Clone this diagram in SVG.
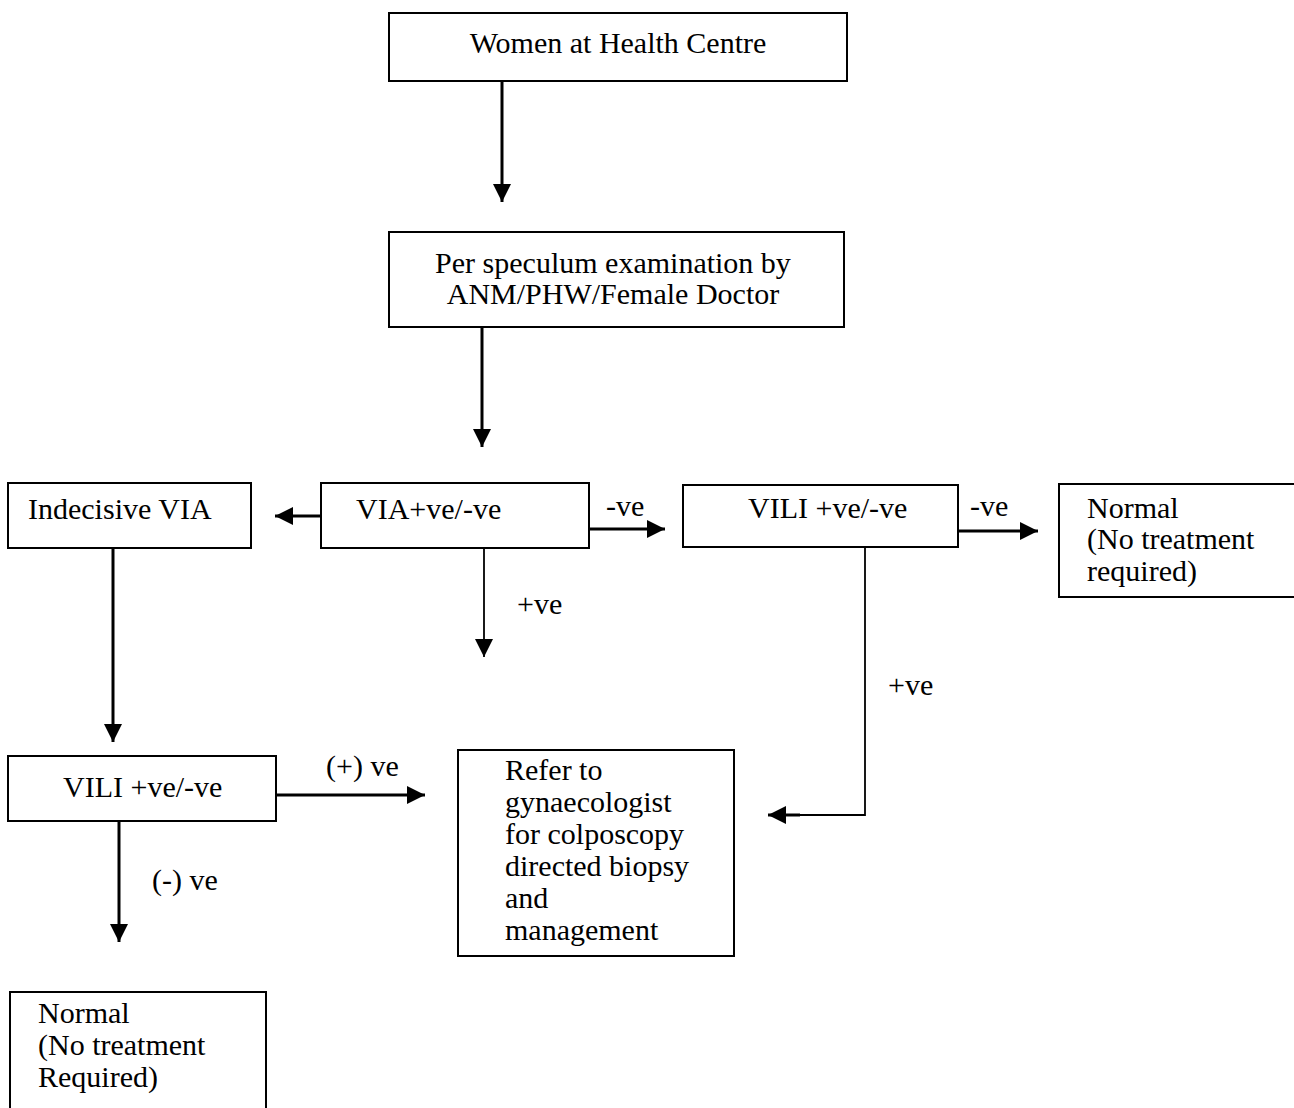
<svg xmlns="http://www.w3.org/2000/svg" width="1294" height="1108" viewBox="0 0 1294 1108">
<defs>
<marker id="ah" viewBox="0 0 10 10" refX="10" refY="5" markerWidth="6" markerHeight="6" markerUnits="strokeWidth" orient="auto">
<path d="M0,0 L10,5 L0,10 z" fill="#000"/>
</marker>
<marker id="ah2" viewBox="0 0 10 10" refX="10" refY="5" markerWidth="10" markerHeight="10" markerUnits="strokeWidth" orient="auto">
<path d="M0,0 L10,5 L0,10 z" fill="#000"/>
</marker>
<style>
.box{fill:#fff;stroke:#000;stroke-width:2}
.t{font-family:"Liberation Serif","Times New Roman",serif;font-size:30px;fill:#000}
.c{stroke:#000;stroke-width:3;fill:none;marker-end:url(#ah)}
.thin{stroke:#000;stroke-width:1.8;fill:none}
.thinA{stroke:#000;stroke-width:1.8;fill:none;marker-end:url(#ah2)}
</style>
</defs>
<rect width="1294" height="1108" fill="#fff"/>
<g id="connectors">
<line class="c" x1="502" y1="81" x2="502" y2="202"/>
<line class="c" x1="482" y1="327" x2="482" y2="447"/>
<line class="c" x1="321" y1="516" x2="275" y2="516"/>
<line class="c" x1="589" y1="529" x2="665" y2="529"/>
<line class="c" x1="958" y1="531" x2="1038" y2="531"/>
<line class="thinA" x1="484" y1="548" x2="484" y2="657"/>
<polyline class="thin" points="865,547 865,815 790,815"/>
<line class="c" x1="800" y1="815" x2="768" y2="815"/>
<line class="c" x1="113" y1="548" x2="113" y2="742"/>
<line class="c" x1="276" y1="795" x2="425" y2="795"/>
<line class="c" x1="119" y1="821" x2="119" y2="942"/>
<text class="t" x="606" y="516">-ve</text>
<text class="t" x="970" y="516">-ve</text>
<text class="t" x="517" y="614">+ve</text>
<text class="t" x="888" y="695">+ve</text>
<text class="t" x="326" y="776">(+) ve</text>
<text class="t" x="152" y="890">(-) ve</text>
</g>
<g id="n1">
<rect class="box" x="389" y="13" width="458" height="68"/>
<text class="t" x="618" y="53" text-anchor="middle">Women at Health Centre</text>
</g>
<g id="n2">
<rect class="box" x="389" y="232" width="455" height="95"/>
<text class="t" x="613" y="273" text-anchor="middle">Per speculum examination by</text>
<text class="t" x="613" y="304" text-anchor="middle">ANM/PHW/Female Doctor</text>
</g>
<g id="n3">
<rect class="box" x="8" y="483" width="243" height="65"/>
<text class="t" x="28" y="519">Indecisive VIA</text>
</g>
<g id="n4">
<rect class="box" x="321" y="483" width="268" height="65"/>
<text class="t" x="356" y="519">VIA+ve/-ve</text>
</g>
<g id="n5">
<rect class="box" x="683" y="485" width="275" height="62"/>
<text class="t" x="748" y="518">VILI +ve/-ve</text>
</g>
<g id="n6">
<rect class="box" x="1059" y="484" width="240" height="113"/>
<text class="t" x="1087" y="518">Normal</text>
<text class="t" x="1087" y="549">(No treatment</text>
<text class="t" x="1087" y="581">required)</text>
</g>
<g id="n7">
<rect class="box" x="8" y="756" width="268" height="65"/>
<text class="t" x="63" y="797">VILI +ve/-ve</text>
</g>
<g id="n8">
<rect class="box" x="458" y="750" width="276" height="206"/>
<text class="t" x="505" y="780">Refer to</text>
<text class="t" x="505" y="812">gynaecologist</text>
<text class="t" x="505" y="844">for colposcopy</text>
<text class="t" x="505" y="876">directed biopsy</text>
<text class="t" x="505" y="908">and</text>
<text class="t" x="505" y="940">management</text>
</g>
<g id="n9">
<rect class="box" x="10" y="992" width="256" height="130"/>
<text class="t" x="38" y="1023">Normal</text>
<text class="t" x="38" y="1055">(No treatment</text>
<text class="t" x="38" y="1087">Required)</text>
</g>
</svg>
